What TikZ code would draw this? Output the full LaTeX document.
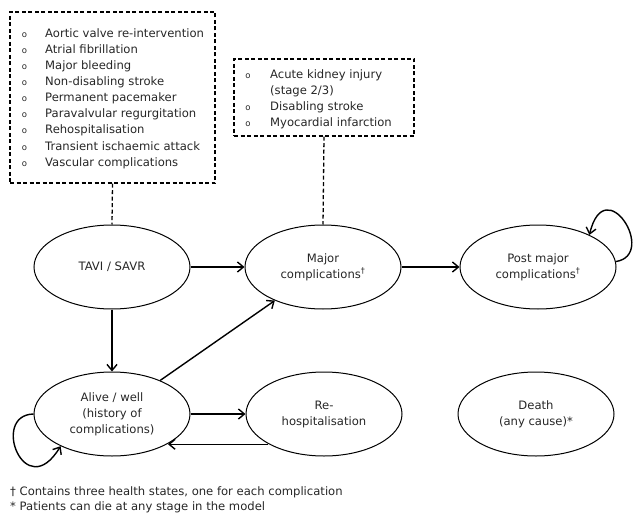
\documentclass[tikz,border=0pt]{standalone}
\usepackage{fontspec}
\setmainfont{DejaVu Sans}
\usetikzlibrary{arrows.meta,shapes.geometric}
\begin{document}
\begin{tikzpicture}[x=1pt,y=-1pt,
  every node/.style={font=\fontsize{11.6}{16}\selectfont, text=black!85},
  state/.style={draw, ellipse, line width=1pt, minimum width=156pt,
    minimum height=84pt, inner sep=0pt, align=center},
  listbox/.style={draw, dash pattern=on 4pt off 2.5pt, line width=1.3pt,
    inner sep=0pt},
  item/.style={anchor=base west, inner sep=0pt},
  bul/.style={anchor=base, inner sep=0pt, font=\fontsize{8.5}{8.5}\selectfont},
  trans/.style={-{Straight Barb[length=6pt,width=10pt]}, line width=1.4pt},
  link/.style={dash pattern=on 4pt off 2.5pt, line width=1.3pt},
  note/.style={anchor=base west, inner sep=0pt}
]
\useasboundingbox (0,0) rectangle (636,513);

% complication lists
\node[listbox, minimum width=205pt, minimum height=171pt] (box1) at (112.5,97.5) {};
\foreach \t [count=\i] in {Aortic valve re-intervention, Atrial fibrillation,
    Major bleeding, Non-disabling stroke, Permanent pacemaker,
    Paravalvular regurgitation, Rehospitalisation,
    Transient ischaemic attack, Vascular complications} {
  \node[bul] (ba\i) at (24.5, 22+16*\i) {o};
  \node[item] (ta\i) at (45, 22+16*\i) {\t};
}

\node[listbox, minimum width=180pt, minimum height=77pt] (box2) at (324,97.5) {};
\node[bul] (bb1) at (248, 79) {o};
\node[item] (tb1) at (270, 79) {Acute kidney injury};
\node[item] (tb1b) at (270, 95) {(stage 2/3)};
\node[bul] (bb2) at (248, 111) {o};
\node[item] (tb2) at (270, 111) {Disabling stroke};
\node[bul] (bb3) at (248, 127) {o};
\node[item] (tb3) at (270, 127) {Myocardial infarction};

% health states
\node[state] (tavi) at (112,267) {TAVI / SAVR};
\node[state] (major) at (323,267) {Major\\complications\textsuperscript{†}};
\node[state] (post) at (538,267) {Post major\\complications\textsuperscript{†}};
\node[state] (alive) at (112,414) {Alive / well\\(history of\\complications)};
\node[state] (rehosp) at (324,414) {Re-\\hospitalisation};
\node[state] (death) at (536,414) {Death\\(any cause)*};

% links from the lists
\draw[link] (box1.south) -- (tavi.north);
\draw[link] (box2.south) -- (major.north);

% transitions
\draw[trans] (tavi) -- (major);
\draw[trans] (major) -- (post);
\draw[trans] (tavi) -- (alive);
\draw[trans] (alive) -- (major);
\draw[trans] (alive) -- (rehosp);
\draw[trans] ([yshift=-0.5pt]rehosp.208) -- ([yshift=-0.5pt]alive.332 |- rehosp.208);
\draw[trans] (alive.west) .. controls (-10,415) and (25,505) .. (alive.212);
\draw[trans] (post.4) .. controls (658,255) and (605,170) .. (post.32);

% footnotes
\node[note] (fn1) at (10,495) {† Contains three health states, one for each complication};
\node[note] (fn2) at (10,510) {* Patients can die at any stage in the model};
\end{tikzpicture}
\end{document}
